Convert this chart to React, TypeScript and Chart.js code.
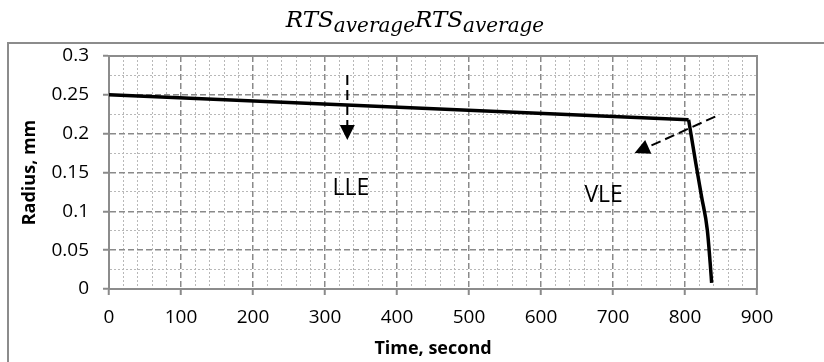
import React, { useEffect, useRef } from "react";
import { Chart, registerables } from "chart.js";
Chart.register(...registerables);

// ---- data ----
const timeSeconds = [0, 805, 815, 823, 831, 835, 837];
const radiusMm = [0.25, 0.218, 0.162, 0.119, 0.076, 0.033, 0.008];
// index where the slow (LLE) stage ends and the fast (VLE) drop begins
const breakIndex = 1;

const xTickMajor = [0, 100, 200, 300, 400, 500, 600, 700, 800, 900];
const yTickMajor = [0, 0.05, 0.1, 0.15, 0.2, 0.25, 0.3];

const titleMain = ["RTS", "RTS"];
const titleSub = ["average", "average"];

const regionLabels = ["LLE", "VLE"];
const regionLabelX = [336, 687];
const regionLabelY = [0.129, 0.121];

// arrows: start (x,y) -> tip (x,y)
const arrowStartX = [331, 842];
const arrowStartY = [0.2755, 0.222];
const arrowTipX = [331, 730];
const arrowTipY = [0.192, 0.175];

const GRID_MAJOR = "#8a8a8a";
const GRID_MINOR = "#b8b8b8";
const FONT = "'Open Sans', sans-serif";

const isMajorX = (v: number) => xTickMajor.some((m) => Math.abs(m - v) < 1e-6);
const isMajorY = (v: number) => yTickMajor.some((m) => Math.abs(m - v) < 1e-6);

const framePlugin = {
  id: "frame",
  beforeDraw(chart: any) {
    const ctx = chart.ctx;
    ctx.save();
    ctx.fillStyle = "#ffffff";
    ctx.fillRect(0, 0, chart.width, chart.height);
    ctx.strokeStyle = "#8c8c8c";
    ctx.lineWidth = 2;
    ctx.strokeRect(8, 43, 900, 400);
    ctx.restore();
  },
  beforeDatasetsDraw(chart: any) {
    const { ctx, chartArea: a } = chart;
    ctx.save();
    ctx.strokeStyle = "#8c8c8c";
    ctx.lineWidth = 2;
    ctx.setLineDash([]);
    ctx.strokeRect(a.left, a.top, a.right - a.left, a.bottom - a.top);
    ctx.restore();
  },
  afterDraw(chart: any) {
    const ctx = chart.ctx;
    ctx.save();
    const mainFont = "italic 23px 'DejaVu Serif', serif";
    const subFont = "italic 20px 'DejaVu Serif', serif";
    let total = 0;
    const widths: number[][] = [];
    for (let i = 0; i < titleMain.length; i++) {
      ctx.font = mainFont;
      const w1 = ctx.measureText(titleMain[i]).width;
      ctx.font = subFont;
      const w2 = ctx.measureText(titleSub[i]).width;
      widths.push([w1, w2]);
      total += w1 + w2;
    }
    let x = 415 - total / 2;
    ctx.fillStyle = "#000";
    ctx.textBaseline = "alphabetic";
    ctx.textAlign = "left";
    for (let i = 0; i < titleMain.length; i++) {
      ctx.font = mainFont;
      ctx.fillText(titleMain[i], x, 27);
      x += widths[i][0];
      ctx.font = subFont;
      ctx.fillText(titleSub[i], x, 32);
      x += widths[i][1];
    }
    ctx.restore();
  },
};

const annotationPlugin = {
  id: "annotations",
  afterDatasetsDraw(chart: any) {
    const { ctx, scales } = chart;
    const xs = scales.x;
    const ys = scales.y;
    ctx.save();
    ctx.fillStyle = "#000";
    ctx.font = `23px ${FONT}`;
    ctx.textAlign = "center";
    ctx.textBaseline = "middle";
    for (let i = 0; i < regionLabels.length; i++) {
      ctx.fillText(
        regionLabels[i],
        xs.getPixelForValue(regionLabelX[i]),
        ys.getPixelForValue(regionLabelY[i])
      );
    }
    for (let i = 0; i < arrowStartX.length; i++) {
      const x0 = xs.getPixelForValue(arrowStartX[i]);
      const y0 = ys.getPixelForValue(arrowStartY[i]);
      const x1 = xs.getPixelForValue(arrowTipX[i]);
      const y1 = ys.getPixelForValue(arrowTipY[i]);
      const ang = Math.atan2(y1 - y0, x1 - x0);
      const headLen = 15;
      const headHalf = 7.5;
      const bx = x1 - headLen * Math.cos(ang);
      const by = y1 - headLen * Math.sin(ang);
      ctx.strokeStyle = "#000";
      ctx.lineWidth = 2;
      ctx.setLineDash([10, 5]);
      ctx.beginPath();
      ctx.moveTo(x0, y0);
      ctx.lineTo(bx, by);
      ctx.stroke();
      ctx.setLineDash([]);
      ctx.beginPath();
      ctx.moveTo(x1, y1);
      ctx.lineTo(bx + headHalf * Math.sin(ang), by - headHalf * Math.cos(ang));
      ctx.lineTo(bx - headHalf * Math.sin(ang), by + headHalf * Math.cos(ang));
      ctx.closePath();
      ctx.fillStyle = "#000";
      ctx.fill();
    }
    ctx.restore();
  },
};

export default function App() {
  const ref = useRef<HTMLCanvasElement | null>(null);
  useEffect(() => {
    document.body.style.margin = "0";
    if (!ref.current) return;
    const points = timeSeconds.map((t, i) => ({ x: t, y: radiusMm[i] }));
    const lineStyle = {
      borderColor: "#000",
      borderWidth: 3.5,
      pointRadius: 0,
      fill: false,
      borderCapStyle: "butt",
      borderJoinStyle: "miter",
    };
    const chart = new Chart(ref.current, {
      type: "line",
      data: {
        datasets: [
          { ...lineStyle, data: points.slice(0, breakIndex + 1), tension: 0 },
          { ...lineStyle, data: points.slice(breakIndex), cubicInterpolationMode: "monotone" },
        ],
      },
      options: {
        animation: false,
        responsive: false,
        layout: { padding: { top: 56, right: 67, left: 0, bottom: 0 } },
        plugins: { legend: { display: false }, tooltip: { enabled: false }, title: { display: false } },
        scales: {
          x: {
            type: "linear",
            min: 0,
            max: 900,
            afterFit: (s: any) => {
              s.height = 73;
            },
            ticks: {
              stepSize: 20,
              autoSkip: false,
              maxRotation: 0,
              padding: 11,
              color: "#000",
              font: { family: FONT, size: 19 },
              callback: (v: any) => (isMajorX(Number(v)) ? String(v) : ""),
            },
            grid: {
              color: (c: any) => (isMajorX(c.tick.value) ? GRID_MAJOR : GRID_MINOR),
              lineWidth: (c: any) => (isMajorX(c.tick.value) ? 1.5 : 1),
              tickColor: (c: any) => (isMajorX(c.tick.value) ? GRID_MAJOR : "rgba(0,0,0,0)"),
              tickLength: 6,
              tickWidth: 2,
              tickBorderDash: [],
            },
            border: {
              display: true,
              color: "#8c8c8c",
              width: 2,
              dash: (c: any) => (c.tick && isMajorX(c.tick.value) ? [6, 3] : [2, 2]),
            },
            title: {
              display: true,
              text: "Time, second",
              color: "#000",
              font: { family: FONT, size: 18, weight: "bold" },
              padding: { top: 0, bottom: 2 },
            },
          },
          y: {
            type: "linear",
            min: 0,
            max: 0.3,
            afterFit: (s: any) => {
              s.width = 109;
            },
            ticks: {
              stepSize: 0.025,
              autoSkip: false,
              padding: 14,
              color: "#000",
              font: { family: FONT, size: 19 },
              callback: (v: any) => {
                const n = Number(v);
                return isMajorY(n) ? String(+n.toFixed(2)) : "";
              },
            },
            grid: {
              color: (c: any) => (isMajorY(c.tick.value) ? GRID_MAJOR : GRID_MINOR),
              lineWidth: (c: any) => (isMajorY(c.tick.value) ? 1.5 : 1),
              tickColor: (c: any) => (isMajorY(c.tick.value) ? GRID_MAJOR : "rgba(0,0,0,0)"),
              tickLength: 6,
              tickWidth: 2,
              tickBorderDash: [],
            },
            border: {
              display: true,
              color: "#8c8c8c",
              width: 2,
              dash: (c: any) => (c.tick && isMajorY(c.tick.value) ? [6, 3] : [2, 2]),
            },
            title: {
              display: true,
              text: "Radius, mm",
              color: "#000",
              font: { family: FONT, size: 18, weight: "bold" },
              padding: { top: 19, bottom: 0 },
            },
          },
        },
      } as any,
      plugins: [framePlugin, annotationPlugin],
    });
    return () => chart.destroy();
  }, []);
  return (
    <div style={{ width: 824, height: 362 }}>
      <canvas ref={ref} width={824} height={362} />
    </div>
  );
}
